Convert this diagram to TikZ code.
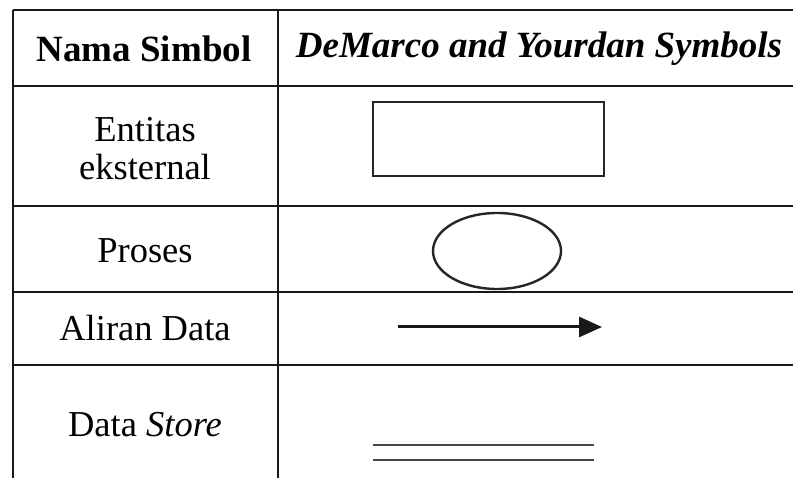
\documentclass[tikz,border=0pt]{standalone}
\usepackage{fontspec}
\setmainfont{Liberation Serif}
\usetikzlibrary{shapes.geometric,arrows.meta}
\begin{document}
\begin{tikzpicture}[x=1pt,y=-1pt,
  rule/.style={line width=2.3pt,color=black!90},
  cell/.style={font=\fontsize{36.5}{38}\selectfont,align=center,inner sep=0pt},
  head/.style={cell,font=\fontsize{37}{40}\selectfont\bfseries},
  sym/.style={draw=black!85,line width=2.4pt,inner sep=0pt},
  flow/.style={line width=3pt,color=black!90,-{Triangle[length=23pt,width=20pt]}},
  store/.style={line width=2.6pt,color=black!72}]
\useasboundingbox (0,0) rectangle (793,478);
\fill[white] (0,0) rectangle (793,478);

% table rules
\draw[rule] (13,10) -- (13,478);
\draw[rule] (278,10) -- (278,478);
\foreach \yy in {10,86,206,292,365}
  \draw[rule] (13,\yy) -- (793,\yy);

% header
\node[head] (hname) at (144,49) {Nama Simbol};
\node[head] (hsym) at (539,49) {\itshape DeMarco and Yourdan Symbols};

% row labels
\node[cell] (lent) at (145,149) {Entitas\\eksternal};
\node[cell] (lproc) at (145,251) {Proses};
\node[cell] (lflow) at (145,328) {Aliran Data};
\node[cell] (lstore) at (145,425) {Data \textit{Store}};

% symbols
\node[sym,rectangle,minimum width=231pt,minimum height=74pt] (entity) at (488.5,139) {};
\node[sym,ellipse,minimum width=128pt,minimum height=76pt] (process) at (497,251) {};

\coordinate (fa) at (398,327);
\coordinate (fb) at (602,327);
\draw[flow] (fa) -- (fb);

\coordinate (sa) at (373,445);
\coordinate (sb) at (594,445);
\coordinate (sc) at (373,460);
\coordinate (sd) at (594,460);
\draw[store] (sa) -- (sb);
\draw[store] (sc) -- (sd);
\end{tikzpicture}
\end{document}
